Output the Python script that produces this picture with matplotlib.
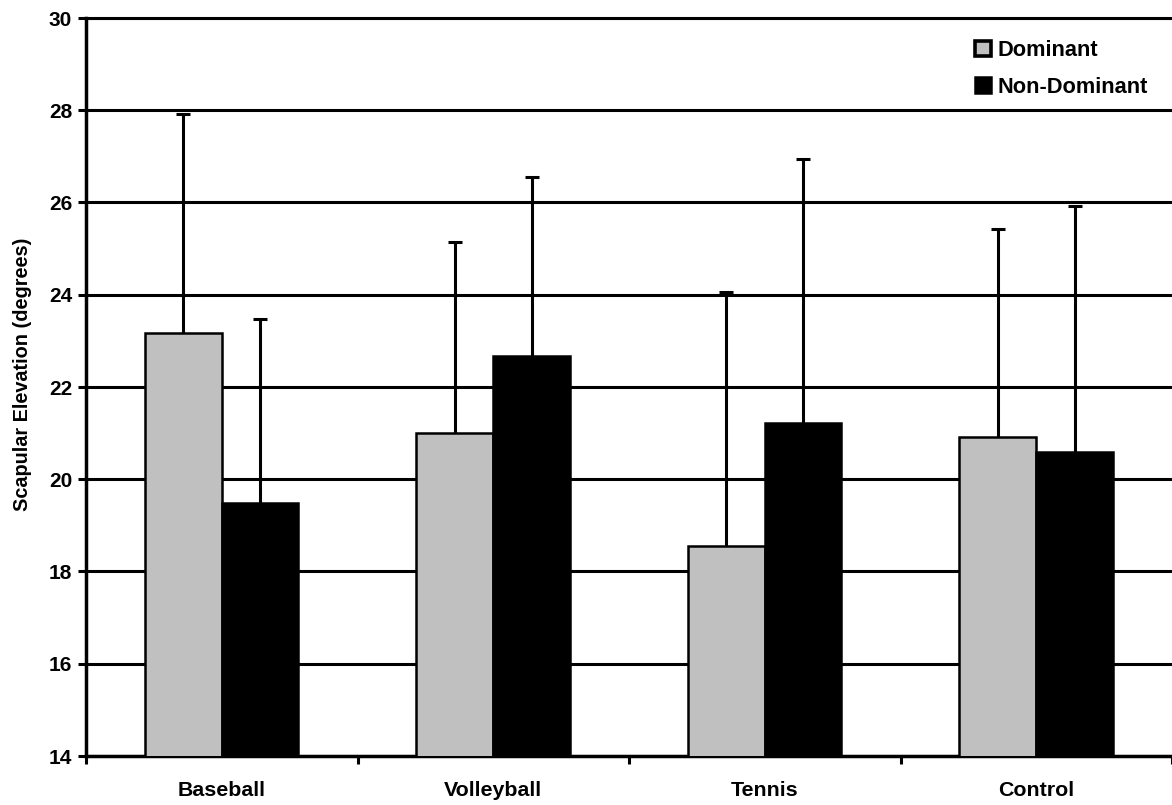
import numpy as np
import matplotlib
matplotlib.use('Agg')
import matplotlib.pyplot as plt

plt.rcParams['font.family'] = ['Liberation Sans', 'DejaVu Sans']
plt.rcParams['font.weight'] = 'bold'

# data
categories = ['Baseball', 'Volleyball', 'Tennis', 'Control']
dominant = [23.17, 21.01, 18.55, 20.92]
dominant_sd = [4.74, 4.14, 5.50, 4.50]
non_dominant = [19.49, 22.67, 21.23, 20.60]
non_dominant_sd = [3.99, 3.89, 5.71, 5.33]
yticks = [14, 16, 18, 20, 22, 24, 26, 28, 30]

fig = plt.figure(figsize=(11.72, 8.05), dpi=100)
ax = fig.add_axes([86/1172, 49/805, 1086/1172, 738/805])

x = np.arange(len(categories))
w = 0.283

ax.bar(x - 0.142, dominant, w, bottom=0, color='#c0c0c0', edgecolor='black',
       linewidth=1.8, label='Dominant', zorder=3)
ax.bar(x + 0.141, non_dominant, w, bottom=0, color='black', edgecolor='black',
       linewidth=1.8, label='Non-Dominant', zorder=3)

# upper error bars only
for xs, vals, sd in [(x - 0.142, dominant, dominant_sd), (x + 0.141, non_dominant, non_dominant_sd)]:
    eb = ax.errorbar(xs, vals, yerr=[np.zeros(len(sd)), sd], fmt='none',
                     ecolor='black', elinewidth=2.2, capsize=4.7, capthick=2.2, zorder=4)
    eb[1][0].set_visible(False)

ax.set_ylim(14, 30)
ax.set_xlim(-0.5, 3.5)
ax.set_yticks(yticks)
ax.set_yticklabels([str(t) for t in yticks], fontsize=15, fontweight='bold')
ax.yaxis.grid(True, color='black', linewidth=2.2, zorder=0)
ax.set_axisbelow(True)

# category labels at centres, tick marks at group boundaries
ax.set_xticks(x)
ax.set_xticklabels(categories, fontsize=15.4, fontweight='bold')
ax.tick_params(axis='x', which='major', length=0, pad=18)
ax.set_xticks(np.arange(-0.5, 3.6, 1.0), minor=True)
ax.tick_params(axis='x', which='minor', length=6, width=2.2, color='black')
ax.tick_params(axis='y', length=6, width=2.2, pad=4)

ax.spines['top'].set_linewidth(2.2)
ax.spines['right'].set_visible(False)
ax.spines['left'].set_linewidth(2.5)
ax.spines['bottom'].set_linewidth(2.5)

ax.set_ylabel('Scapular Elevation (degrees)', fontsize=14.3, fontweight='bold')
ax.yaxis.set_label_coords(-0.0497, 0.517)

leg = ax.legend(loc='upper left', bbox_to_anchor=(975/1172, 1 - 40/805), bbox_transform=fig.transFigure,
                frameon=False, fontsize=15.7, handlelength=0.72, handleheight=0.72,
                handletextpad=0.3, labelspacing=0.72, borderpad=0, borderaxespad=0)
leg.legend_handles[0].set_linewidth(2.6)

fig.savefig('out.png', dpi=100, facecolor='white')
